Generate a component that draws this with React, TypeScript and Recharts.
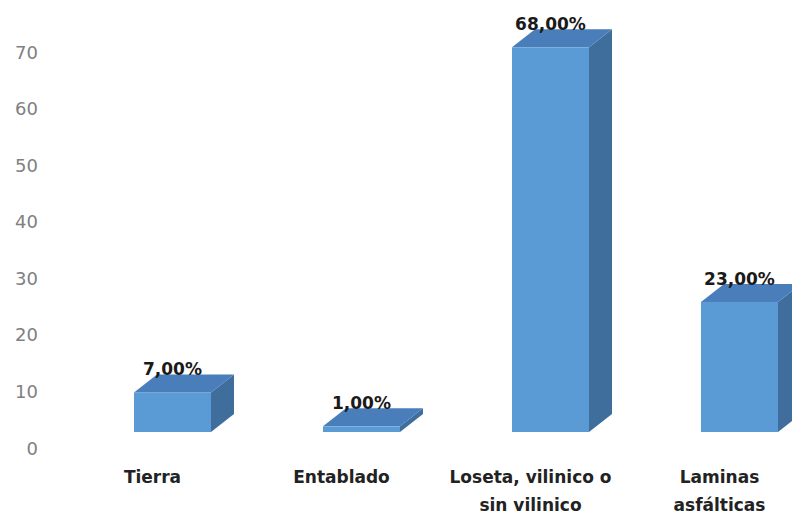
import React from "react";
import { BarChart, Bar, XAxis, YAxis, LabelList } from "recharts";

const categories: string[] = ["Tierra", "Entablado", "Loseta, vilinico o sin vilinico", "Laminas asfálticas"];
const categoryLines: string[][] = [["Tierra"], ["Entablado"], ["Loseta, vilinico o", "sin vilinico"], ["Laminas", "asfálticas"]];
const values: number[] = [7, 1, 68, 23];
const yTicks: number[] = [0, 10, 20, 30, 40, 50, 60, 70];

const data = categories.map((c, i) => ({ name: c, lines: categoryLines[i], value: values[i] }));

const FRONT_SHIFT = 16;
const DX = 23;
const DY = 18;

const Bar3D = (props: any) => {
  const { x, y, width, height } = props;
  const top = y - FRONT_SHIFT;
  const bottom = y + height - FRONT_SHIFT;
  const topFace = `M${x},${top} L${x + DX},${top - DY} L${x + width + DX},${top - DY} L${x + width},${top} Z`;
  const sideFace = `M${x + width},${top} L${x + width + DX},${top - DY} L${x + width + DX},${bottom - DY} L${x + width},${bottom} Z`;
  return (
    <g>
      <path d={sideFace} fill="#3F6E9C" />
      <path d={topFace} fill="#4A7EBB" />
      <rect x={x} y={top} width={width} height={Math.max(height, 0)} fill="#5B9BD5" />
    </g>
  );
};

const ValueLabel = (props: any) => {
  const { x, y, width, value } = props;
  const top = y - FRONT_SHIFT;
  return (
    <text
      x={x + width / 2}
      y={top - DY + 1}
      textAnchor="middle"
      fontFamily="DejaVu Sans"
      fontWeight="bold"
      fontSize={17}
      fill="#1a1a1a"
    >
      {value.toFixed(2).replace(".", ",") + "%"}
    </text>
  );
};

const YTick = (props: any) => {
  const { y, payload } = props;
  return (
    <text x={38} y={y} textAnchor="end" dominantBaseline="central" fontFamily="DejaVu Sans" fontSize={18} fill="#808080">
      {payload.value}
    </text>
  );
};

const XTick = (props: any) => {
  const { x, y, payload, index } = props;
  const lines = categoryLines[index] ?? [payload.value];
  return (
    <g>
      {lines.map((l: string, i: number) => (
        <text
          key={i}
          x={x - 20}
          y={y + 35 + i * 28}
          textAnchor="middle"
          fontFamily="DejaVu Sans"
          fontWeight="bold"
          fontSize={17}
          fill="#222222"
        >
          {l}
        </text>
      ))}
    </g>
  );
};

export default function App() {
  return (
    <div style={{ position: "absolute", left: 0, top: 0, width: 792, height: 515, overflow: "hidden", background: "#ffffff" }}>
      <BarChart width={840} height={515} data={data} margin={{ top: 52, right: 6, bottom: 0, left: 0 }}>
        <XAxis
          dataKey="name"
          height={67}
          axisLine={false}
          tickLine={false}
          tickSize={0}
          tickMargin={0}
          interval={0}
          tick={<XTick />}
        />
        <YAxis
          width={78}
          domain={[0, 70]}
          ticks={yTicks}
          axisLine={false}
          tickLine={false}
          tick={<YTick />}
        />
        <Bar dataKey="value" barSize={77} shape={<Bar3D />} isAnimationActive={false}>
          <LabelList dataKey="value" content={<ValueLabel />} />
        </Bar>
      </BarChart>
    </div>
  );
}
